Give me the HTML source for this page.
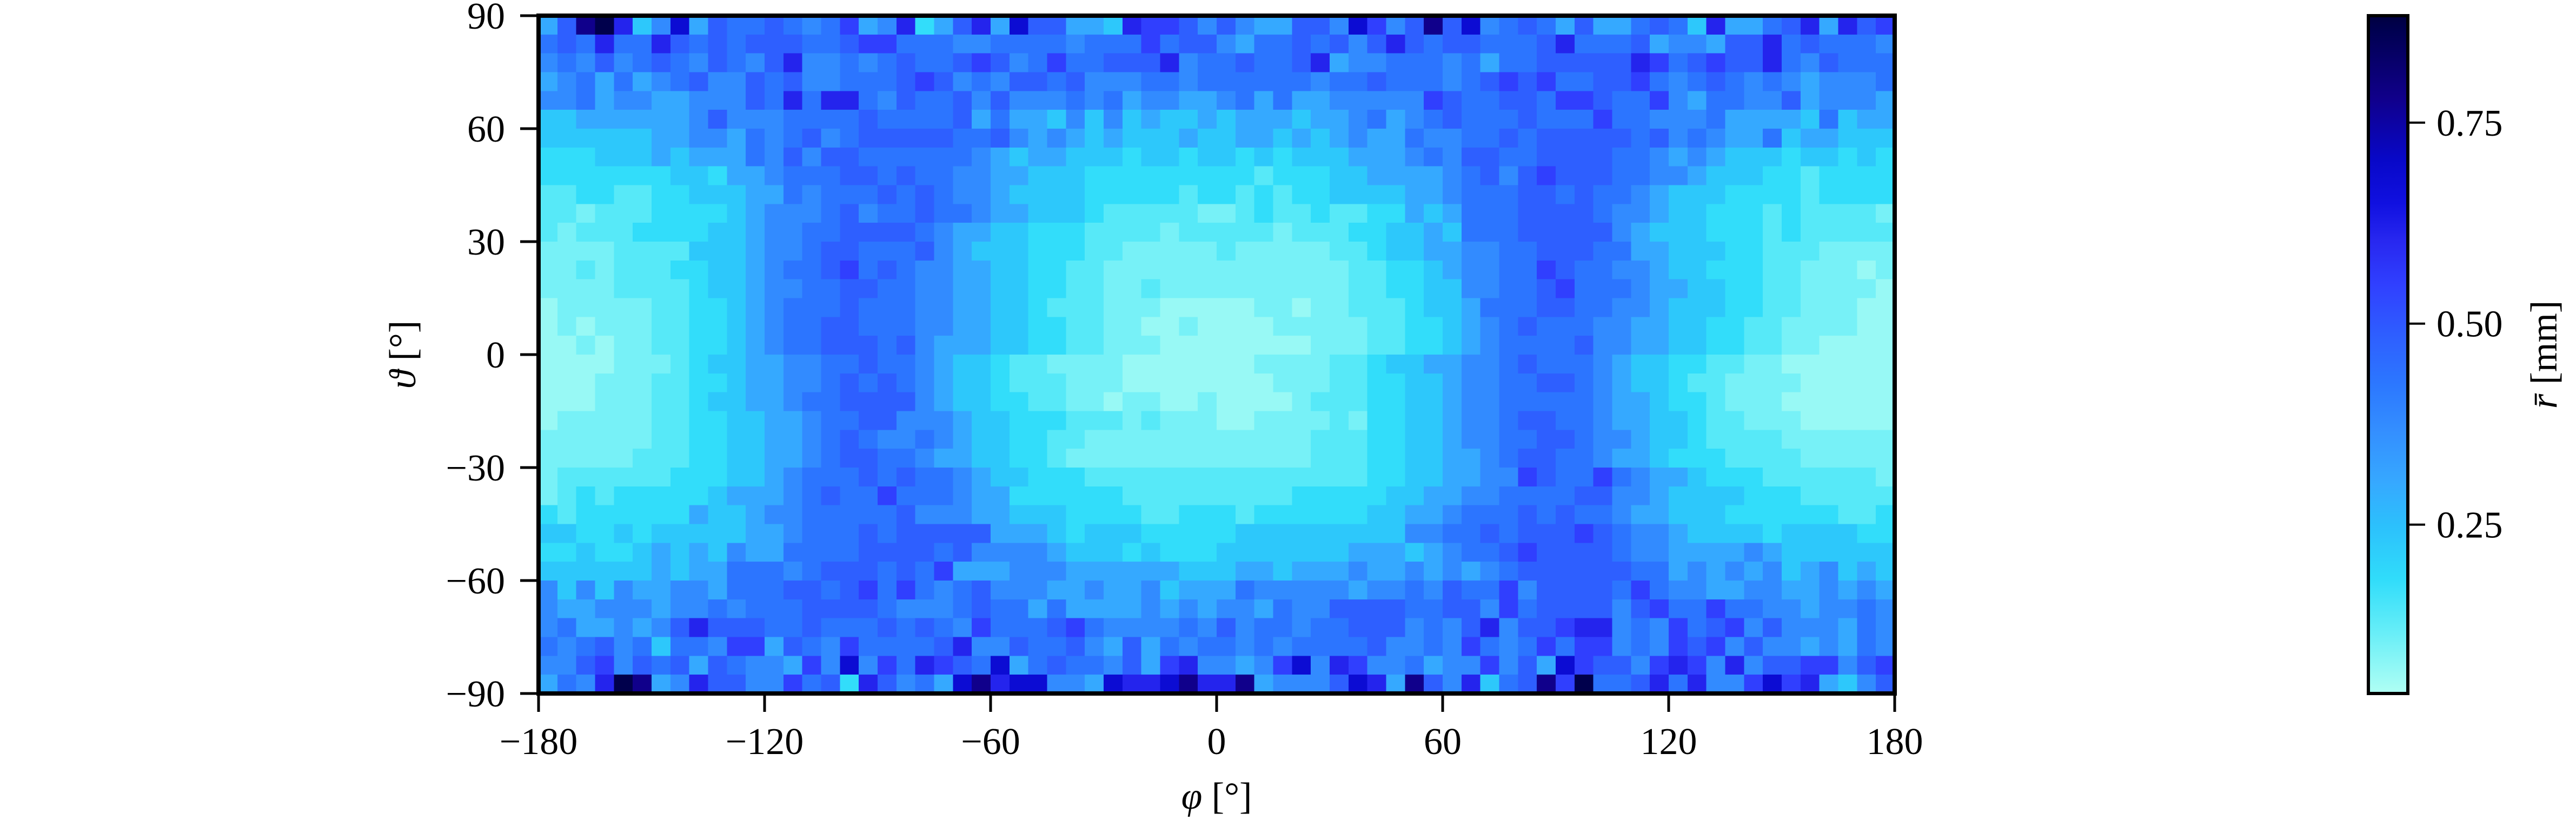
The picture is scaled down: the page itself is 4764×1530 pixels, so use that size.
<!DOCTYPE html>
<html><head><meta charset="utf-8"><style>
html,body{margin:0;padding:0;background:#fff;}
svg{display:block;}
text{font-family:"Liberation Serif","DejaVu Serif",serif;fill:#000;}
</style></head><body>
<svg id="fig" width="4764" height="1530" viewBox="0 0 4764 1530" xmlns="http://www.w3.org/2000/svg">
<defs><linearGradient id="cbgrad" x1="0" y1="1" x2="0" y2="0"></linearGradient></defs>
<g id="cells" shape-rendering="crispEdges"></g>
<rect x="996" y="29" width="2508" height="1254" fill="none" stroke="#000" stroke-width="8"/>
<g id="axes"></g>
<text x="2250" y="1496" font-size="70" text-anchor="middle"><tspan font-style="italic">φ</tspan> [°]</text>
<text x="0" y="0" font-size="70" text-anchor="middle" transform="translate(768,656) rotate(-90)"><tspan font-style="italic">ϑ</tspan> [°]</text>
<rect x="4380" y="29" width="73" height="1254" fill="url(#cbgrad)" stroke="#000" stroke-width="6"/>
<g id="cbaxis"></g>
<text x="0" y="0" font-size="70" text-anchor="middle" transform="translate(4728,656) rotate(-90)"><tspan font-style="italic">r̄</tspan> [mm]</text>
</svg>
<script>
// ---- data ----
const phiTicks = [-180,-120,-60,0,60,120,180];
const thetaTicks = [-90,-60,-30,0,30,60,90];
const cbTicks = [0.25,0.50,0.75];
const cbTickLabels = ["0.25","0.50","0.75"];
const binSize = 5;
const vmin = 0.040, vmax = 0.883;
const levelChars = "0123456789ABCD";
const levelValues = [0.065,0.10,0.135,0.18,0.23,0.30,0.375,0.43,0.485,0.55,0.61,0.68,0.78,0.87];
// rows from theta=90 (top) to theta=-90 (bottom); columns phi -180..180
const rows = [
"58CDA46B58778767956A358A5B88554A9986"+"8655886B968C8B678758557874A5578A5A89",
"787A77A8787888778997776677776777978 8".replace(" ","")+"657787868A87887778A7778566588A787776",
"6768678768768A6676787789867977888A67"+"78778A56677767577888"+"88A978988A768777",
"5675756786687866777898676887866677 67".replace(" ","")+"77777677877767898977"+"8897678767656667",
"6675665566687A7AA7687786866676756655"+"67575566666987788799"+"8779657766856665",
"44555555686667777877"+"7785755464645445"+"45554556756787778777"+"9776667555547455",
"44444455665767867888"+"8877865654544454"+"45545456557667787888"+"8878676557455444",
"33344454555768688777"+"7776545544434434"+"43434445556768877888"+"8776565444344343",
"33333334435567778878"+"7766554443333333"+"33233344555567868988"+"8776654443323333",
"22332233444557677787"+"8766544443333323"+"32323344445567778878"+"7765444333323333",
"22122233334566678677"+"8776554443222221"+"12322322335457778888"+"7665443332322221",
"21222333344566778888"+"7655443332222122"+"22212223344547778888"+"8654443332322222",
"11112222444566788777"+"8654443332211111"+"21111122344556677888"+"7755444332221111",
"11212223344567789787"+"6655443322111111"+"11111112233456677987"+"7665443332211101",
"11112222344566778877"+"6655443322112111"+"11111112233446677897"+"7765544332211110",
"01111122334567778777"+"6655443222111000"+"00110112223445777887"+"7665444332211100",
"01011122334567788777"+"6655443322110010"+"00011111223345678777"+"6655443322111100",
"00101122334567788878"+"6555443322111000"+"00000111223345677778"+"6655443322110000",
"00001112344556677877"+"6544322111100000"+"00111122344556678777"+"6544332211000000",
"00011122334556678787"+"6544322211100000"+"00011122334456677887"+"6544322111100000",
"00011122344556778888"+"6544332211011001"+"00001222334456677777"+"6554332111000000",
"01111122334455677886"+"6654433322212111"+"00111121334456678877"+"6554432211100000",
"11111122334455678766"+"7654433221111111"+"11111222334456677887"+"6654432222111111",
"11111222334455678877"+"6554433211111111"+"11111222334455678877"+"6554333222211111",
"12222223334456777878"+"7765443332222222"+"22222222334455669877"+"9765543332222221",
"12323333345556787797"+"7765533333322222"+"22223333344556677778"+"8665444433322222",
"32333333544566777778"+"6665544433332233"+"32333333445567778787"+"7655444333333223",
"44334344444556777878"+"8888555434443333"+"34444444446677878889"+"8766544443444433",
"33433454546557777888"+"8786666544434333"+"44444445554567789888"+"8766555565444444",
"44444454557776788878"+"7955566655555544"+"45545556556565678888"+"8877565656456454",
"64646556657778878979"+"7678666556556455"+"57666665667687796888"+"8797665566556565",
"65566656676777888876"+"6678775755556565"+"66576688887788697888"+"8689779776656676",
"67556568A88877877787"+"8769777897666676"+"86776778886768A6889A"+"A676978968666576",
"76786747769958769777"+"78A6687786585767"+"76767777866769767979"+"9676989686656576",
"6689687858766596B697"+"A987B578776859A6"+"6569B6A96675669685B9"+"8869A96A68899689",
"576ADC56A88669783A86"+"75BCABB665BAABCA"+"AC56668BA5C86A478C9D"+"778A7A669B9A5468"
];
// colormap stops (value, color)
const cmapVals = [0.040,0.124,0.183,0.249,0.303,0.363,0.423,0.482,0.548,0.602,0.650,0.704,0.781,0.865,0.883];
const cmapCols = ["#b0fff4","#60ecf8","#30dcfa","#2cc0fc","#36a8ff","#3490ff","#2c78ff","#2e60ff","#3040ff","#2828f0","#1010e0","#0808c8","#10008a","#000050","#000040"];

// ---- helpers ----
const NS = "http://www.w3.org/2000/svg";
const X0=996, X1=3504, Y0=29, Y1=1283;
const xs = p => X0 + (p+180)/360*(X1-X0);
const ys = t => Y0 + (90-t)/180*(Y1-Y0);
const CB0=29, CB1=1283;
const cbs = v => CB1 - (v-vmin)/(vmax-vmin)*(CB1-CB0);
function hex(c){return [1,3,5].map(i=>parseInt(c.substr(i,2),16));}
function cmap(v){
  if(v<=cmapVals[0]) return cmapCols[0];
  for(let i=1;i<cmapVals.length;i++){
    if(v<=cmapVals[i]){
      const t=(v-cmapVals[i-1])/(cmapVals[i]-cmapVals[i-1]);
      const a=hex(cmapCols[i-1]), b=hex(cmapCols[i]);
      return "rgb("+a.map((x,k)=>Math.round(x+(b[k]-x)*t)).join(",")+")";
    }
  }
  return cmapCols[cmapCols.length-1];
}
function mk(tag, attrs, parent){const e=document.createElementNS(NS,tag);for(const k in attrs)e.setAttribute(k,attrs[k]);parent.appendChild(e);return e;}

// ---- cells ----
const cells=document.getElementById("cells");
rows.forEach((row,i)=>{
  const tTop = 90 - i*binSize;
  for(let j=0;j<row.length;j++){
    const v = levelValues[levelChars.indexOf(row[j])];
    const p = -180 + j*binSize;
    const x=xs(p), y=ys(tTop);
    const r=mk("rect",{x:x.toFixed(2),y:y.toFixed(2),width:(xs(p+binSize)-x+0.6).toFixed(2),height:(ys(tTop-binSize)-y+0.6).toFixed(2),fill:cmap(v)},cells);
    
    
  }
});

// ---- axes ticks ----
const axes=document.getElementById("axes");
const fmt=v=>(v<0?"\u2212":"")+Math.abs(v);
phiTicks.forEach(p=>{
  const l=mk("line",{x1:xs(p),x2:xs(p),y1:Y1+4,y2:Y1+34,stroke:"#000","stroke-width":5},axes);
  
  
  const t=mk("text",{x:xs(p),y:Y1+112,"font-size":70,"text-anchor":"middle"},axes);
  t.textContent=fmt(p);
  
  
});
thetaTicks.forEach(th=>{
  const l=mk("line",{x1:X0-34,x2:X0-4,y1:ys(th),y2:ys(th),stroke:"#000","stroke-width":5},axes);
  
  
  const t=mk("text",{x:X0-62,y:ys(th)+24,"font-size":70,"text-anchor":"end"},axes);
  t.textContent=fmt(th);
  
  
});

// ---- colorbar ----
const grad=document.getElementById("cbgrad");
cmapVals.forEach((v,i)=>{
  mk("stop",{offset:((v-vmin)/(vmax-vmin)).toFixed(4),"stop-color":cmapCols[i]},grad);
});
const cba=document.getElementById("cbaxis");
cbTicks.forEach((v,i)=>{
  const l=mk("line",{x1:4455,x2:4485,y1:cbs(v),y2:cbs(v),stroke:"#000","stroke-width":4},cba);
  
  
  const t=mk("text",{x:4506,y:cbs(v)+24,"font-size":70},cba);
  t.textContent=cbTickLabels[i];
  
  
});
</script>
</body></html>
